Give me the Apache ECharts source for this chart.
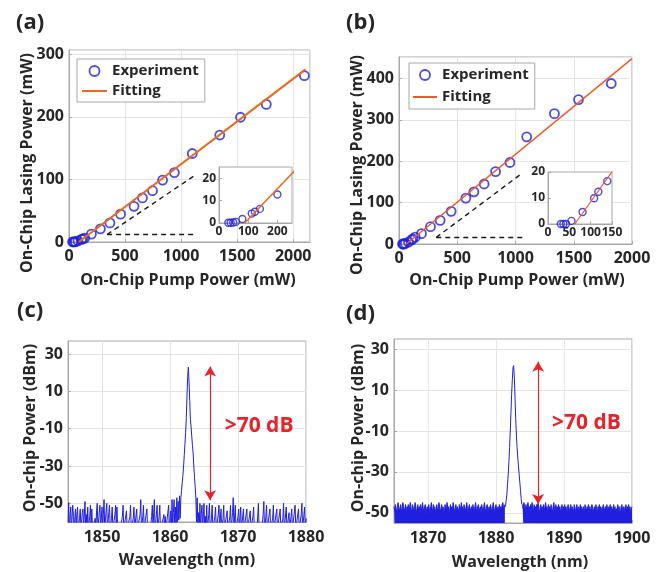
<!DOCTYPE html>
<html><head><meta charset="utf-8">
<script src="https://cdn.jsdelivr.net/npm/echarts@6/dist/echarts.min.js"></script>
<style>html,body{margin:0;padding:0;background:#fff}#c{width:665px;height:572px}</style>
</head><body><div id="c"></div>
<script>
// ---------- data ----------
const aPumpPower   = [32,40,49,58,80,112,123,140,200,280,365,460,580,655,745,835,940,1100,1345,1530,1760,2100];
const aLasingPower = [0.1,0.1,0.2,0.5,1.8,4.2,5.0,6.3,12.7,21,30.5,44.5,57,70.5,82,99,111,141.5,171,199.5,220,266];
const aFitPump   = [88, 2110];
const aFitLasing = [0, 276];

const bPumpPower   = [30,36,42,55,81,108,118,139,193,270,353,448,574,643,731,829,952,1096,1334,1541,1822];
const bLasingPower = [0,0,0,1.2,4.6,9.9,12.4,16.5,25,41.8,57,79,111,126,145,175,197,259,315,349,388];
const bFitPump   = [63, 2000];
const bFitLasing = [0, 448];

// zoom guide (dashed) corners in data units
const aGuide = {x0: 340, y0: 12, x1: 1127, y1: 107};
const bGuide = {x0: 320, y0: 16, x1: 1062, y1: 172};

// spectrum (c): 1845.0 nm .. 1880.0 nm, 0.1 nm sampling (dBm)
const cStart = 1845.0, cStep = 0.1;
const cPower = [
-64,-49.6,-64,-58,-52,-64,-64,-51,-57,-64,
-64,-53,-64,-56,-52,-64,-64,-58,-53,-64,
-64,-55,-53,-64,-64,-49,-64,-56,-64,-52,
-64,-64,-57,-51,-64,-53,-64,-64,-64,-64,
-58,-64,-54,-50,-64,-64,-55,-51,-64,-64,
-52,-64,-56,-48,-64,-64,-54,-50,-64,-64,
-55,-51,-64,-64,-58,-52,-64,-64,-64,-56,
-51,-64,-52,-64,-64,-64,-64,-64,-64,-64,
-57,-51,-64,-64,-64,-64,-54,-64,-64,-64,
-64,-57,-51,-64,-64,-64,-58,-52,-64,-64,
-64,-53,-64,-64,-64,-64,-56,-48,-64,-64,
-57,-51,-64,-64,-64,-64,-53,-64,-64,-64,
-64,-64,-64,-57,-51,-64,-55,-48,-64,-64,
-56,-51,-64,-64,-57,-51,-64,-64,-64,-64,
-58,-56,-64,-57,-64,-64,-64,-64,-51,-64,
-64,-54,-64,-48,-64,-55,-48,-64,-52,-64,
-47,-60,-49,-59,-46,-58,-47,-43,-39,-35,
-30,-24,-18,-12,-4,8,18,23,15,5,
-5,-9,-14,-19,-23,-30,-36,-41,-47,-60,
-47,-64,-55,-64,-50,-64,-56,-51,-64,-64,
-50,-64,-57,-64,-51,-64,-64,-56,-50,-64,
-64,-58,-51,-64,-64,-64,-57,-52,-64,-64,
-64,-56,-51,-64,-64,-53,-64,-64,-58,-51,
-64,-64,-64,-64,-54,-64,-64,-64,-57,-51,
-64,-64,-55,-47,-64,-64,-51,-64,-64,-64,
-57,-53,-64,-64,-52,-64,-64,-64,-53,-64,
-64,-64,-64,-53,-64,-64,-64,-64,-54,-64,
-64,-64,-57,-52,-64,-64,-64,-64,-64,-64,
-50,-64,-64,-64,-64,-64,-64,-56,-49,-64,
-64,-57,-51,-64,-64,-64,-64,-53,-64,-64,
-64,-58,-51,-64,-64,-64,-64,-53,-64,-64,
-64,-64,-53,-64,-64,-64,-58,-50,-64,-64,
-64,-52,-64,-64,-64,-55,-64,-64,-57,-53,
-64,-64,-64,-64,-51,-64,-64,-64,-64,-53,
-64,-64,-64,-56,-50,-64,-64,-64,-52,-64,
-58];

// spectrum (d): noise floor left (from 1865.0 nm), lasing peak, noise floor right (from 1883.9 nm), 0.1 nm sampling
const dStep = 0.1;
const dLeftStart = 1865.0;
const dLeftPower = [
-47,-49,-46,-48,-50,-47,-45,-48,-49,-47,
-46,-50,-48,-45,-47,-49,-48,-46,-51,-47,
-48,-46,-49,-47,-45,-48,-50,-46,-47,-49,
-48,-45,-47,-50,-48,-46,-49,-47,-48,-46,
-50,-47,-45,-48,-49,-47,-46,-51,-48,-47,
-49,-46,-48,-50,-47,-45,-48,-49,-46,-47,
-48,-50,-47,-46,-49,-48,-45,-47,-50,-48,
-46,-49,-47,-48,-51,-46,-47,-49,-45,-48,
-47,-50,-48,-46,-49,-47,-48,-45,-47,-50,
-48,-46,-49,-47,-48,-50,-46,-47,-49,-45,
-48,-47,-50,-46,-48,-49,-47,-45,-48,-50,
-47,-46,-49,-48,-47,-51,-46,-48,-49,-47,
-45,-48,-50,-47,-46,-49,-48,-47,-50,-46,
-48,-49,-47,-45,-48,-50,-47,-46,-49,-48,
-47,-50,-46,-48,-49,-47,-45,-48,-50,-47,
-46,-49,-48,-47,-50,-46,-48,-47,-49,-46,
-45,-47,-48,-46];
const dPeakWavelength = [1881.4,1881.5,1881.6,1881.7,1881.8,1881.9,1882.0,1882.1,1882.2,1882.3,1882.4,1882.5,1882.6,1882.7,1882.8,1882.9,1883.0,1883.1,1883.2,1883.3,1883.4,1883.5,1883.6,1883.7,1883.8];
const dPeakPower      = [-47,-44,-41,-36,-31,-25,-18,-10,-1,8,15,21,22,16,6,-4,-12,-18,-23,-27,-31,-35,-39,-43,-46];
const dRightStart = 1883.9;
const dRightPower = [
-46,-48,-45,-47,-49,-46,-48,-47,-45,-48,
-47,-49,-46,-48,-45,-47,-50,-46,-48,-47,
-49,-46,-47,-45,-48,-50,-47,-46,-49,-47,
-48,-46,-49,-47,-45,-48,-47,-50,-46,-48,
-47,-49,-46,-48,-50,-47,-45,-48,-49,-46,
-48,-47,-49,-46,-48,-47,-50,-48,-46,-49,
-47,-48,-46,-49,-47,-50,-48,-46,-47,-49,
-48,-46,-49,-47,-48,-50,-46,-48,-49,-47,
-46,-49,-48,-47,-50,-46,-48,-47,-49,-48,
-47,-50,-46,-48,-49,-47,-48,-46,-50,-47,
-49,-48,-46,-47,-50,-48,-47,-49,-46,-48,
-50,-47,-48,-46,-49,-47,-48,-50,-47,-46,
-49,-48,-47,-50,-46,-48,-49,-47,-48,-46,
-50,-47,-49,-48,-46,-48,-47,-50,-48,-49,
-46,-48,-47,-49,-50,-47,-46,-48,-49,-47,
-48,-50,-46,-49,-47,-48,-46,-49,-47,-50,
-48,-47];

// annotations (data units)
const cArrow = {x: 1865.9, top: 23.3, bottom: -48.4};
const dArrow = {x: 1886.2, top: 23.9, bottom: -45.7};
const cNote = {x: 1873.1, y: -8.4, text: '>70 dB'};
const dNote = {x: 1893.3, y: -6.2, text: '>70 dB'};

// tick labels
const specYTicks = [-50,-30,-10,10,30];
const cXTicks = [1850,1860,1870,1880];
const dXTicks = [1870,1880,1890,1900];

// ---------- helpers ----------
const zip = (xs, ys) => xs.map((x, i) => [x, ys[i]]);
const grid01 = (start, step, ys) => ys.map((y, i) => [Math.round((start + i * step) * 100) / 100, y]);

const FONT = '"Open Sans","Noto Sans",sans-serif';
const INK = '#262626';
const BLUE = '#1f1fe0';
const GRIDC = '#e4e4e4';
const BOXC = '#a8a8a8';
const RED = '#e8212b';

function vAxis(grid, min, max, o) {
  o = o || {};
  const ax = {
    type: 'value', gridIndex: grid, min: min, max: max,
    axisLine: {show: true, onZero: false, lineStyle: {color: BOXC, width: 1}},
    axisTick: {show: true, inside: true, length: 3, lineStyle: {color: BOXC}},
    splitLine: {show: o.grid !== false, lineStyle: {color: GRIDC, width: 1}},
    axisLabel: {color: INK, fontFamily: FONT, fontWeight: 'bold', fontSize: o.fs || 16,
                margin: o.margin || 6, showMaxLabel: !!o.showMax, showMinLabel: true,
                formatter: v => String(v)}
  };
  if (o.interval) ax.interval = o.interval;
  if (o.ticks) { ax.axisLabel.customValues = o.ticks; ax.axisTick.customValues = o.ticks; }
  return ax;
}
function gridBox(l, t, w, h, bg) {
  return {left: l, top: t, width: w, height: h, show: true, borderColor: BOXC, borderWidth: 1,
          backgroundColor: bg || 'transparent', z: bg ? 5 : 0};
}
function guideLines(g) {
  return {
    silent: true, symbol: 'none', animation: false,
    lineStyle: {type: [5, 4], color: '#1a1a1a', width: 1.4},
    label: {show: false},
    data: [
      [{coord: [g.x0, g.y0]}, {coord: [g.x1, g.y0]}],
      [{coord: [g.x0, g.y0]}, {coord: [g.x1, g.y1]}]
    ]
  };
}
function arrowLine(a) {
  return {
    silent: true, symbol: ['arrow', 'arrow'], symbolSize: [9, 10], animation: false,
    lineStyle: {type: 'solid', color: RED, width: 1.2},
    label: {show: false},
    data: [[{coord: [a.x, a.bottom]}, {coord: [a.x, a.top]}]]
  };
}
function note(n) {
  return {
    silent: true, symbol: 'rect', symbolSize: 1, itemStyle: {color: 'rgba(0,0,0,0)'}, animation: false,
    label: {show: true, position: 'inside', formatter: n.text, color: RED, fontFamily: FONT, fontWeight: 'bold', fontSize: 21},
    data: [{coord: [n.x, n.y]}]
  };
}
const markerStyle = {color: 'rgba(0,0,0,0)', borderColor: BLUE, borderWidth: 1.8};
const noSymbol = {color: 'rgba(0,0,0,0)', borderColor: 'rgba(0,0,0,0)', borderWidth: 0, opacity: 0};

const titleFont = 'bold 16px ' + FONT;
function txt(text, x, y, font, rot, align) {
  return {type: 'text', x: x, y: y, rotation: rot || 0, z: 20,
          style: {text: text, x: 0, y: 0, font: font, fill: INK, align: align || 'center', verticalAlign: 'middle'}};
}

const chart = echarts.init(document.getElementById('c'), null, {renderer: 'canvas'});
chart.setOption({
  animation: false,
  backgroundColor: '#fff',
  grid: [
    gridBox(69, 50, 241, 192),
    gridBox(399, 57, 233, 187),
    gridBox(68, 341, 238, 181),
    gridBox(394, 339, 238, 184),
    gridBox(219, 167, 73, 56, '#fff'),
    gridBox(548, 172, 64, 52, '#fff')
  ],
  xAxis: [
    vAxis(0, 0, 2150, {interval: 500, margin: 6}),
    vAxis(1, 0, 2000, {interval: 500, margin: 6, showMax: true}),
    vAxis(2, 1845, 1880, {ticks: cXTicks, margin: 7, showMax: true}),
    vAxis(3, 1865, 1900, {ticks: dXTicks, margin: 7, showMax: true}),
    Object.assign(vAxis(4, 0, 250, {interval: 100, grid: false, fs: 12, margin: 3}), {z: 6}),
    Object.assign(vAxis(5, 0, 150, {interval: 50, grid: false, fs: 12, margin: 3, showMax: true}), {z: 6})
  ],
  yAxis: [
    vAxis(0, 0, 307, {interval: 100, margin: 5}),
    vAxis(1, 0, 452, {interval: 100, margin: 5}),
    vAxis(2, -60, 37, {ticks: specYTicks, margin: 5, showMax: true}),
    vAxis(3, -55, 35, {ticks: specYTicks, margin: 5, showMax: true}),
    Object.assign(vAxis(4, 0, 25, {interval: 10, grid: false, fs: 12, margin: 3}), {z: 6}),
    Object.assign(vAxis(5, 0, 20, {interval: 10, grid: false, fs: 12, margin: 3, showMax: true}), {z: 6})
  ],
  legend: [
    {left: 77, top: 59, orient: 'vertical', backgroundColor: '#fff', borderColor: BOXC, borderWidth: 1,
     padding: [4, 6, 3, 4], itemGap: 4, itemWidth: 25, itemHeight: 10, selectedMode: false,
     textStyle: {color: INK, fontFamily: FONT, fontWeight: 'bold', fontSize: 15, lineHeight: 16},
     data: [{name: 'Experiment', icon: 'circle', itemStyle: markerStyle},
            {name: 'Fitting', itemStyle: noSymbol}]},
    {left: 409, top: 63, orient: 'vertical', backgroundColor: '#fff', borderColor: BOXC, borderWidth: 1,
     padding: [4, 6, 4, 3], itemGap: 6, itemWidth: 24, itemHeight: 10, selectedMode: false,
     formatter: n => n.replace(' (b)', ''),
     textStyle: {color: INK, fontFamily: FONT, fontWeight: 'bold', fontSize: 15, lineHeight: 16},
     data: [{name: 'Experiment (b)', icon: 'circle', itemStyle: markerStyle},
            {name: 'Fitting (b)', itemStyle: noSymbol}]}
  ],
  series: [
    {name: 'Experiment', type: 'scatter', xAxisIndex: 0, yAxisIndex: 0, symbol: 'circle', symbolSize: 9,
     itemStyle: markerStyle, data: zip(aPumpPower, aLasingPower), z: 3, markLine: guideLines(aGuide)},
    {name: 'Fitting', type: 'line', xAxisIndex: 0, yAxisIndex: 0, symbol: 'none', z: 4,
     lineStyle: {color: '#ec6a1c', width: 2}, itemStyle: {color: '#ec6a1c'}, data: zip(aFitPump, aFitLasing)},
    {name: 'a-inset-exp', type: 'scatter', xAxisIndex: 4, yAxisIndex: 4, symbol: 'circle', symbolSize: 7, clip: true,
     itemStyle: {color: 'rgba(0,0,0,0)', borderColor: BLUE, borderWidth: 1.4}, data: zip(aPumpPower, aLasingPower), z: 8},
    {name: 'a-inset-fit', type: 'line', xAxisIndex: 4, yAxisIndex: 4, symbol: 'none', clip: true, z: 9,
     lineStyle: {color: '#ec6a1c', width: 1.5}, data: zip(aFitPump, aFitLasing)},

    {name: 'Experiment (b)', type: 'scatter', xAxisIndex: 1, yAxisIndex: 1, symbol: 'circle', symbolSize: 9,
     itemStyle: markerStyle, data: zip(bPumpPower, bLasingPower), z: 3, markLine: guideLines(bGuide)},
    {name: 'Fitting (b)', type: 'line', xAxisIndex: 1, yAxisIndex: 1, symbol: 'none', z: 4,
     lineStyle: {color: '#f0582a', width: 1.5}, itemStyle: {color: '#f0582a'}, data: zip(bFitPump, bFitLasing)},
    {name: 'b-inset-exp', type: 'scatter', xAxisIndex: 5, yAxisIndex: 5, symbol: 'circle', symbolSize: 7, clip: true,
     itemStyle: {color: 'rgba(0,0,0,0)', borderColor: BLUE, borderWidth: 1.4}, data: zip(bPumpPower, bLasingPower), z: 8},
    {name: 'b-inset-fit', type: 'line', xAxisIndex: 5, yAxisIndex: 5, symbol: 'none', clip: true, z: 9,
     lineStyle: {color: '#f0582a', width: 1.2}, data: zip(bFitPump, bFitLasing)},

    {name: 'c-spectrum', type: 'line', xAxisIndex: 2, yAxisIndex: 2, symbol: 'none', clip: true,
     lineStyle: {color: BLUE, width: 1}, data: grid01(cStart, cStep, cPower),
     markLine: arrowLine(cArrow), markPoint: note(cNote)},

    {name: 'd-noise-left', type: 'line', xAxisIndex: 3, yAxisIndex: 3, symbol: 'none', clip: true,
     lineStyle: {color: BLUE, width: 1}, areaStyle: {color: BLUE, opacity: 1, origin: 'start'},
     data: grid01(dLeftStart, dStep, dLeftPower)},
    {name: 'd-peak', type: 'line', xAxisIndex: 3, yAxisIndex: 3, symbol: 'none', clip: true,
     lineStyle: {color: BLUE, width: 1}, data: zip(dPeakWavelength, dPeakPower),
     markLine: arrowLine(dArrow), markPoint: note(dNote)},
    {name: 'd-noise-right', type: 'line', xAxisIndex: 3, yAxisIndex: 3, symbol: 'none', clip: true,
     lineStyle: {color: BLUE, width: 1}, areaStyle: {color: BLUE, opacity: 1, origin: 'start'},
     data: grid01(dRightStart, dStep, dRightPower)}
  ],
  graphic: [
    txt('(a)', 16, 23, 'bold 22px ' + FONT, 0, 'left'),
    txt('(b)', 346, 23, 'bold 22px ' + FONT, 0, 'left'),
    txt('(c)', 17, 311, 'bold 22px ' + FONT, 0, 'left'),
    txt('(d)', 346, 314, 'bold 22px ' + FONT, 0, 'left'),
    txt('On-Chip Lasing Power (mW)', 27, 163, titleFont, Math.PI / 2),
    txt('On-Chip Pump Power (mW)', 188, 280, titleFont),
    txt('On-Chip Lasing Power (mW)', 357, 165, titleFont, Math.PI / 2),
    txt('On-Chip Pump Power (mW)', 517, 280, titleFont),
    txt('On-chip Power (dBm)', 30, 428, titleFont, Math.PI / 2),
    txt('Wavelength (nm)', 187, 560, titleFont),
    txt('On-chip Power (dBm)', 358, 428, titleFont, Math.PI / 2),
    txt('Wavelength (nm)', 520, 562, titleFont)
  ]
});
</script></body></html>
